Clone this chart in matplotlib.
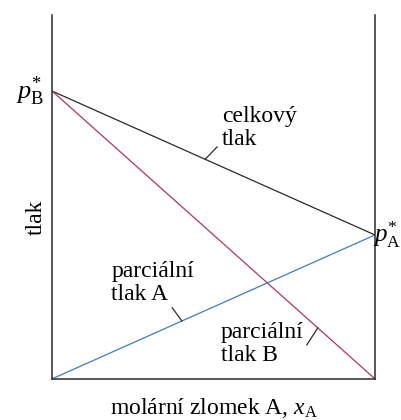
import matplotlib
matplotlib.use("Agg")
import matplotlib.pyplot as plt

# Raoult's law for an ideal binary mixture
x_A = [0.0, 1.0]
p_star_B = 1.0
p_star_A = 0.5
partial_A = [0.0, p_star_A]
partial_B = [p_star_B, 0.0]
total = [p_star_B, p_star_A]

plt.rcParams['font.family'] = ['Liberation Serif', 'DejaVu Serif']
plt.rcParams['mathtext.fontset'] = 'custom'
plt.rcParams['mathtext.rm'] = 'Liberation Serif'
plt.rcParams['mathtext.it'] = 'Liberation Serif:italic'

fig = plt.figure(figsize=(4.01, 4.20), dpi=100)
ax = fig.add_axes([0.130, 0.098, 0.805, 0.866])

ax.plot(x_A, total, color='#2a2a2a', lw=0.9)
ax.plot(x_A, partial_B, color='#b0346a', lw=0.9)
ax.plot(x_A, partial_A, color='#3f7cc4', lw=0.9)

ax.set_xlim(0, 1)
ax.set_ylim(0, 1.264)
ax.spines['top'].set_visible(False)
for s in ['left', 'right', 'bottom']:
    ax.spines[s].set_color('#2a2a2a')
    ax.spines[s].set_linewidth(1.1)
ax.set_xticks([])
ax.set_yticks([])

fs = 17
ax.text(-0.026, p_star_B, r'$p_{\mathrm{B}}^{*}$', ha='right', va='center', fontsize=19)
ax.text(0.994, p_star_A, r'$p_{\mathrm{A}}^{*}$', ha='left', va='center', fontsize=18)

def leader(x0, y0, x1, y1):
    ax.plot([x0, x1], [y0, y1], color='#2a2a2a', lw=0.9, clip_on=False)

# celkový tlak
ax.text(0.526, 0.872, 'celkový\ntlak', ha='left', va='center', fontsize=fs, linespacing=1.15)
leader(0.474, 0.763, 0.511, 0.806)
# parciální tlak A
ax.text(0.183, 0.333, 'parciální\ntlak A', ha='left', va='center', fontsize=fs, linespacing=1.15)
leader(0.372, 0.247, 0.402, 0.201)
# parciální tlak B
ax.text(0.523, 0.122, 'parciální\ntlak B', ha='left', va='center', fontsize=fs, linespacing=1.15)
leader(0.789, 0.118, 0.823, 0.177)

ax.set_ylabel('tlak', fontsize=fs)
ax.yaxis.set_label_coords(-0.018, 0.445)
ax.set_xlabel(r'molární zlomek A, $x_{\mathrm{A}}$', fontsize=fs, labelpad=12)

fig.savefig('out.png', dpi=100)
